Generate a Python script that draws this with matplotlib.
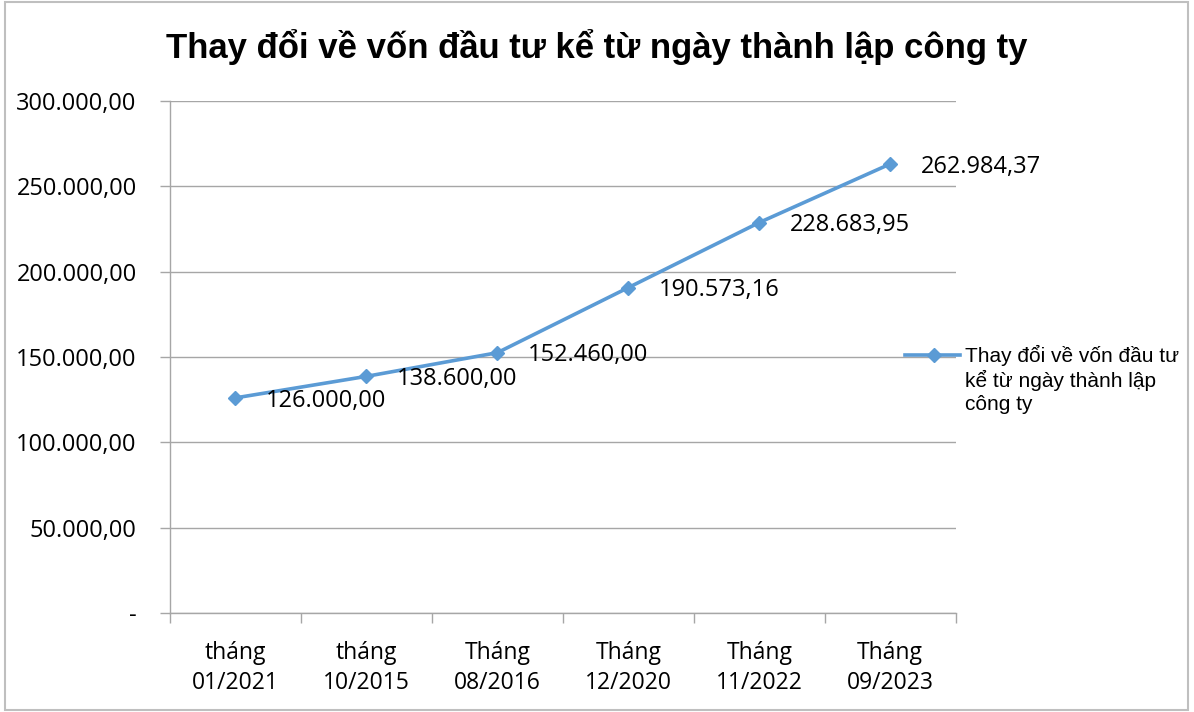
import matplotlib
matplotlib.use("Agg")
import matplotlib.pyplot as plt
from matplotlib.patches import Rectangle
from matplotlib.lines import Line2D

categories = ["tháng\n01/2021", "tháng\n10/2015", "Tháng\n08/2016",
              "Tháng\n12/2020", "Tháng\n11/2022", "Tháng\n09/2023"]
values = [126000.00, 138600.00, 152460.00, 190573.16, 228683.95, 262984.37]
y_ticks = [0, 50000, 100000, 150000, 200000, 250000, 300000]
series_name = "Thay đổi về vốn đầu tư\nkể từ ngày thành lập\ncông ty"
title = "Thay đổi về vốn đầu tư kể từ ngày thành lập công ty"


def vn_fmt(v):
    if v == 0:
        return "-"
    s = f"{v:,.2f}"
    return s.replace(",", "X").replace(".", ",").replace("X", ".")


line_color = "#5B9BD5"
grid_color = "#A6A6A6"
label_font = "Open Sans"

fig = plt.figure(figsize=(11.94, 7.12), dpi=100)
ax = fig.add_axes([0.1424, 0.139, 0.658, 0.7195])

x = list(range(len(categories)))
ax.plot(x, values, color=line_color, lw=2.6, marker="D", ms=7)

for xi, v in zip(x, values):
    ax.annotate(vn_fmt(v), (xi, v), xytext=(22, -2), textcoords="offset points",
                ha="left", va="center", fontsize=17, family=label_font)

ax.set_xlim(-0.5, len(categories) - 0.5)
ax.set_ylim(0, 300000)
ax.set_yticks(y_ticks)
ax.set_yticklabels([vn_fmt(t) for t in y_ticks], fontsize=17, family=label_font)
ax.set_xticks(x)
ax.set_xticklabels(categories, fontsize=16.5, family=label_font, linespacing=1.35)
ax.set_xticks([i - 0.5 for i in range(len(categories) + 1)], minor=True)
ax.tick_params(axis="x", which="major", length=0, pad=20)
ax.tick_params(axis="x", which="minor", length=7, color=grid_color, width=1)
ax.tick_params(axis="y", length=7, color=grid_color, width=1, pad=17)

ax.grid(axis="y", color=grid_color, lw=1)
ax.set_axisbelow(True)
for s in ["top", "right"]:
    ax.spines[s].set_visible(False)
for s in ["left", "bottom"]:
    ax.spines[s].set_color(grid_color)
    ax.spines[s].set_linewidth(1)

fig.text(0.5, 0.934, title, ha="center", va="center", fontsize=25,
         fontweight="bold", family="Liberation Sans")

# legend drawn by hand so the key sits beside the first line of text
ly = 1 - 355 / 712
fig.add_artist(Line2D([905 / 1194, 960 / 1194], [ly, ly], color=line_color, lw=2.6,
                      transform=fig.transFigure))
fig.add_artist(Line2D([934 / 1194], [ly], color=line_color, marker="D", ms=7,
                      transform=fig.transFigure))
fig.text(965 / 1194, ly + 10 / 712, series_name, ha="left", va="top",
         fontsize=15, family="Liberation Sans", linespacing=1.25)

fig.patches.append(Rectangle((0.004, 0.003), 0.991, 0.994, transform=fig.transFigure,
                             fill=False, edgecolor="#BFBFBF", lw=1.5))

fig.savefig("out.png", dpi=100)
